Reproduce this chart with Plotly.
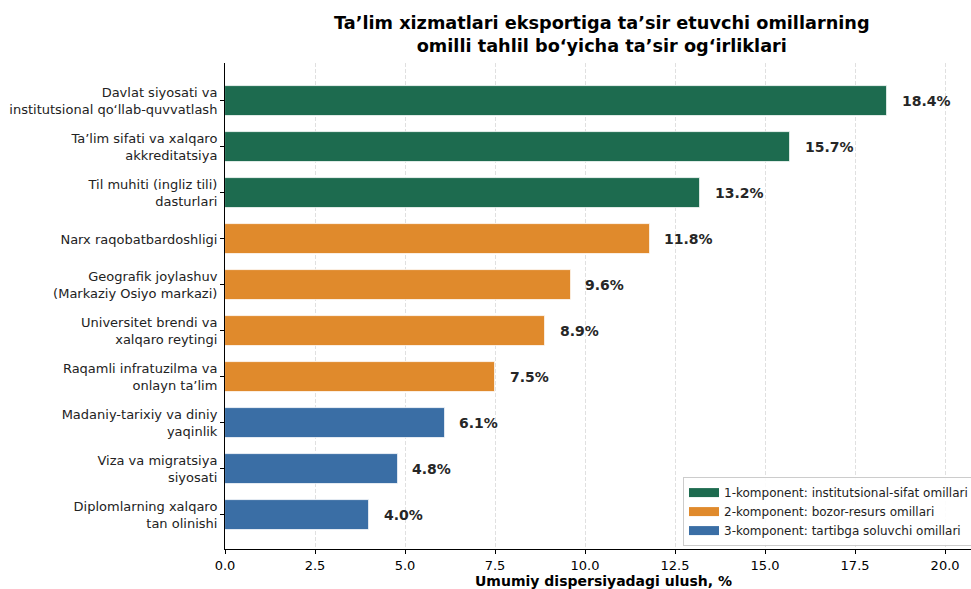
import plotly.graph_objects as go

categories = [
    "Davlat siyosati va<br>institutsional qo‘llab-quvvatlash",
    "Ta’lim sifati va xalqaro<br>akkreditatsiya",
    "Til muhiti (ingliz tili)<br>dasturlari",
    "Narx raqobatbardoshligi",
    "Geografik joylashuv<br>(Markaziy Osiyo markazi)",
    "Universitet brendi va<br>xalqaro reytingi",
    "Raqamli infratuzilma va<br>onlayn ta’lim",
    "Madaniy-tarixiy va diniy<br>yaqinlik",
    "Viza va migratsiya<br>siyosati",
    "Diplomlarning xalqaro<br>tan olinishi",
]
values = [18.4, 15.7, 13.2, 11.8, 9.6, 8.9, 7.5, 6.1, 4.8, 4.0]
component = [1, 1, 1, 2, 2, 2, 2, 3, 3, 3]
component_names = {
    1: "1-komponent: institutsional-sifat omillari",
    2: "2-komponent: bozor-resurs omillari",
    3: "3-komponent: tartibga soluvchi omillari",
}
component_colors = {1: "#1d6b4f", 2: "#e08a2c", 3: "#3a6ea5"}
xticks = [0.0, 2.5, 5.0, 7.5, 10.0, 12.5, 15.0, 17.5, 20.0]
title_text = ("<b>Ta’lim xizmatlari eksportiga ta’sir etuvchi omillarning<br>"
              "omilli tahlil bo‘yicha ta’sir og‘irliklari</b>")
xaxis_title = "<b>Umumiy dispersiyadagi ulush, %</b>"

positions = list(range(len(categories)))

fig = go.Figure()
for comp in [1, 2, 3]:
    idx = [i for i in positions if component[i] == comp]
    fig.add_trace(go.Bar(
        x=[values[i] for i in idx],
        y=[positions[i] for i in idx],
        orientation="h",
        width=0.65,
        name=component_names[comp],
        marker=dict(color=component_colors[comp], line=dict(color="white", width=0.8)),
        hoverinfo="x+y",
        showlegend=False,
    ))
# legend-only entries with rectangular swatches
for comp in [1, 2, 3]:
    fig.add_trace(go.Scatter(
        x=[None], y=[None], mode="lines", name=component_names[comp],
        line=dict(color=component_colors[comp], width=9),
        showlegend=True,
    ))

for i, v in zip(positions, values):
    fig.add_annotation(
        x=v + 0.35, y=i, text=f"<b>{v:.1f}%</b>", showarrow=False,
        xanchor="left", yanchor="middle",
        font=dict(family="DejaVu Sans", size=14, color="#262626"),
    )

fig.add_annotation(
    x=(602 - 225) / 746, y=1 + 52 / 486, xref="paper", yref="paper",
    text=title_text, showarrow=False, xanchor="center", yanchor="top",
    font=dict(family="DejaVu Sans", size=17.7, color="black"),
)
fig.add_annotation(
    x=(603 - 225) / 746, y=-(581 - 549) / 486, xref="paper", yref="paper",
    text=xaxis_title, showarrow=False, xanchor="center", yanchor="middle",
    font=dict(family="DejaVu Sans", size=14, color="black"),
)

fig.update_layout(
    width=971, height=589,
    margin=dict(l=225, r=0, t=63, b=40, autoexpand=False),
    paper_bgcolor="white", plot_bgcolor="white",
    font=dict(family="DejaVu Sans", size=13, color="black"),
    barmode="overlay",
    bargap=0,
    showlegend=True,
    legend=dict(
        x=(683 - 225) / 746, xanchor="left", y=0.006, yanchor="bottom",
        bgcolor="rgba(255,255,255,0.9)", bordercolor="#cccccc", borderwidth=1,
        font=dict(family="DejaVu Sans", size=12, color="#222222"),
        traceorder="normal", itemwidth=30, tracegroupgap=0,
    ),
    xaxis=dict(
        range=[0, 20.72], tickvals=xticks, ticktext=[f"{t:.1f}" for t in xticks],
        showgrid=True, gridcolor="#e0e0e0", griddash="4px,2px", gridwidth=1,
        showline=True, linecolor="black", linewidth=1,
        ticks="outside", ticklen=4, tickcolor="black",
        zeroline=False, automargin=False,
        tickfont=dict(size=13),
    ),
    yaxis=dict(
        range=[9.74, -0.826], tickvals=positions, ticktext=categories,
        showgrid=False, showline=True, linecolor="black", linewidth=1,
        ticks="outside", ticklen=4, tickcolor="black", zeroline=False,
        automargin=False,
        tickfont=dict(size=13, color="#222222"),
    ),
)

fig.write_html("out.html", config={"displayModeBar": False},
               post_script="document.body.style.margin='0';")
